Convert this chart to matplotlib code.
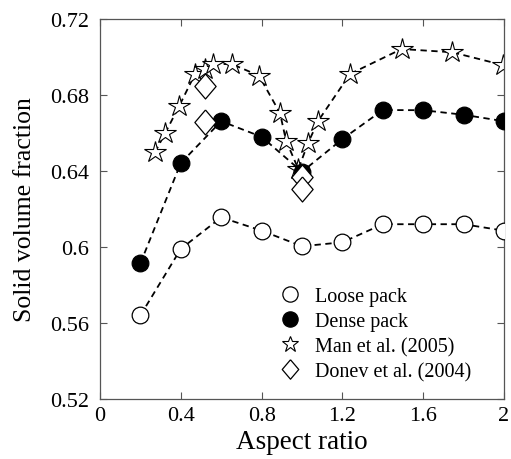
import numpy as np
import matplotlib.pyplot as plt
from matplotlib.ticker import FuncFormatter

# data
ar_pack = [0.2, 0.4, 0.6, 0.8, 1.0, 1.2, 1.4, 1.6, 1.8, 2.0]
loose = [0.564, 0.599, 0.6156, 0.6086, 0.6004, 0.6025, 0.612, 0.612, 0.612, 0.6086]
dense = [0.5914, 0.6442, 0.6662, 0.658, 0.6396, 0.6568, 0.6721, 0.672, 0.6696, 0.6662]

ar_man = [0.272, 0.322, 0.393, 0.47, 0.52, 0.561, 0.652, 0.787, 0.891, 0.921,
          0.982, 1.031, 1.081, 1.238, 1.493, 1.744, 1.993]
man = [0.6498, 0.6598, 0.6744, 0.691, 0.6937, 0.6963, 0.6963, 0.6902, 0.6705, 0.656,
       0.641, 0.655, 0.6665, 0.6911, 0.7042, 0.7025, 0.6958]

ar_donev = [0.52, 0.52, 0.998, 0.998]
donev = [0.6849, 0.6656, 0.6367, 0.6305]

plt.rcParams['font.family'] = ['Liberation Serif', 'DejaVu Serif']

# slightly elongated diamond
diamond = [(0, 1), (0.85, 0), (0, -1), (-0.85, 0), (0, 1)]

fig = plt.figure(figsize=(5.11, 4.6), dpi=100)
ax = fig.add_axes([0.1957, 0.1304, 0.7906, 0.8261])

dash = (0, (3.5, 2.5))
ax.plot(ar_man, man, color='k', ls=dash, lw=1.3, marker='*', ms=16,
        mfc='white', mec='k', mew=0.8, label='Man et al. (2005)', zorder=2)
ax.plot(ar_pack, dense, color='k', ls=dash, lw=1.3, marker='o', ms=12,
        mfc='k', mec='k', mew=0.9, label='Dense pack', zorder=3)
ax.plot(ar_pack, loose, color='k', ls=dash, lw=1.3, marker='o', ms=12,
        mfc='white', mec='k', mew=0.9, label='Loose pack', zorder=3)
ax.plot(ar_donev, donev, ls='none', marker=diamond, ms=18,
        mfc='white', mec='k', mew=0.9, label='Donev et al. (2004)', zorder=4)

ax.set_xlim(0, 2)
ax.set_ylim(0.52, 0.72)
ax.set_xticks([0, 0.4, 0.8, 1.2, 1.6, 2])
ax.set_yticks([0.52, 0.56, 0.6, 0.64, 0.68, 0.72])
fmt = FuncFormatter(lambda v, p: '%g' % v)
ax.xaxis.set_major_formatter(fmt)
ax.yaxis.set_major_formatter(fmt)
ax.tick_params(direction='in', top=True, right=True, length=5, width=0.8,
               color='#555555', labelsize=16)
ax.tick_params(axis='y', pad=8)
ax.tick_params(axis='x', pad=5)
for s in ax.spines.values():
    s.set_color('#555555')
    s.set_linewidth(0.9)

ax.set_xlabel('Aspect ratio', fontsize=19.5, labelpad=3)
ax.set_ylabel('Solid volume fraction', fontsize=18.5, labelpad=10)

h, l = ax.get_legend_handles_labels()
order = [2, 1, 0, 3]
leg = ax.legend([h[i] for i in order], [l[i] for i in order], frameon=False,
                loc='lower left', bbox_to_anchor=(0.425, 0.025), fontsize=14.5,
                handlelength=1.0, handletextpad=0.75, labelspacing=0.3,
                borderaxespad=0)
sizes = [11, 11, 12, 14]
for lh, sz in zip(leg.get_lines(), sizes):
    lh.set_linestyle('none')
    lh.set_markersize(sz)

fig.savefig('out.png', dpi=100)
